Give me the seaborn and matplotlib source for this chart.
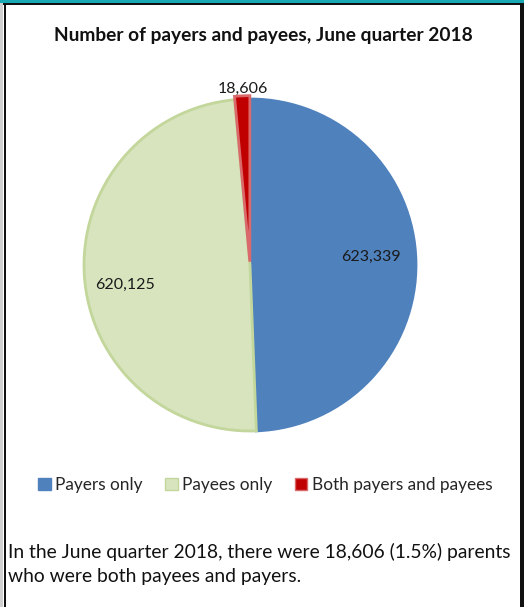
import matplotlib
matplotlib.use("Agg")
import matplotlib.pyplot as plt
import seaborn as sns
from matplotlib.patches import Rectangle

categories = ["Payers only", "Payees only", "Both payers and payees"]
values = [623339, 620125, 18606]
value_labels = ["623,339", "620,125", "18,606"]
colors = ["#4f81bd", "#d7e4bd", "#c00000"]
edge_colors = ["#4f81bd", "#c3d69b", "#d9696a"]
title = "Number of payers and payees, June quarter 2018"
caption = "In the June quarter 2018, there were 18,606 (1.5%) parents\nwho were both payees and payers."

sns.set_theme(style="white")
plt.rcParams["font.family"] = ["Lato", "DejaVu Sans"]

W, H = 524, 607
fig = plt.figure(figsize=(W / 100, H / 100), dpi=100)
fig.patch.set_facecolor("white")

# pie axes
cx, cy, R = 250, 265, 166
half = 1.2 * R
ax = fig.add_axes([(cx - half) / W, 1 - (cy + half) / H, 2 * half / W, 2 * half / H])
wedges, _ = ax.pie(values, colors=colors, startangle=90, counterclock=False,
                   explode=[0, 0, 0.02], radius=1.0,
                   wedgeprops=dict(linewidth=2))
for w, ec in zip(wedges, edge_colors):
    w.set_edgecolor(ec)
ax.set_xlim(-1.2, 1.2)
ax.set_ylim(-1.2, 1.2)
ax.set_aspect("equal")
ax.axis("off")

label_pos = [(0.73, 0.05), (-0.75, -0.12), (-0.04, 1.06)]
for (x, y), t in zip(label_pos, value_labels):
    ax.text(x, y, t, ha="center", va="center", fontsize=11.5, color="#1a1a1a")

# title
fig.text(263 / W, 1 - 35 / H, title, ha="center", va="center",
         fontsize=13.8, fontweight="bold", color="#111111")

# legend
handles = [Rectangle((0, 0), 1, 1, facecolor=c, edgecolor=e, linewidth=1)
           for c, e in zip(colors, edge_colors)]
fig.legend(handles, categories, loc="center", bbox_to_anchor=(265 / W, 1 - 485 / H),
           ncol=3, frameon=False, fontsize=12.4, handlelength=0.75, handleheight=0.75,
           handletextpad=0.25, columnspacing=1.3)

# caption
fig.text(8 / W, 1 - 564 / H, caption, ha="left", va="center", fontsize=13.9,
         color="#111111", linespacing=1.55)

# borders
fig.add_artist(Rectangle((0, 1 - 3 / H), 1, 3 / H, transform=fig.transFigure,
                         facecolor="#19a9b5", edgecolor="none"))
fig.add_artist(Rectangle((0, 1 - 5 / H), 1, 2 / H, transform=fig.transFigure,
                         facecolor="#111111", edgecolor="none"))
fig.add_artist(Rectangle((0, 0), 3 / W, 1 - 3 / H, transform=fig.transFigure,
                         facecolor="#d0d0d0", edgecolor="none"))
fig.add_artist(Rectangle((4 / W, 0), 2 / W, 1 - 3 / H, transform=fig.transFigure,
                         facecolor="#111111", edgecolor="none"))
fig.add_artist(Rectangle((520 / W, 0), 4 / W, 1 - 3 / H, transform=fig.transFigure,
                         facecolor="#111111", edgecolor="none"))

fig.savefig("out.png", dpi=100)
